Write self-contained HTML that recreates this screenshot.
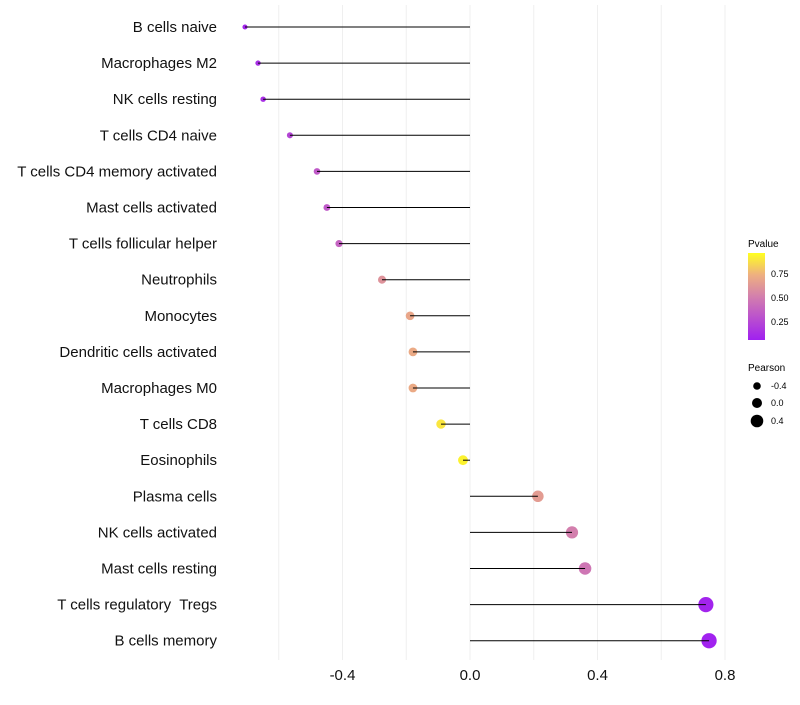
<!DOCTYPE html>
<html><head><meta charset="utf-8"><style>
body{margin:0;background:#fff;font-family:"Liberation Sans",sans-serif}
</style></head><body>
<svg id="c" width="800" height="700" xmlns="http://www.w3.org/2000/svg">
<defs><linearGradient id="pg" x1="0" y1="1" x2="0" y2="0">
<stop offset="0" stop-color="#a020f0"/><stop offset="0.5" stop-color="#d37fad"/><stop offset="0.75" stop-color="#eeb080"/><stop offset="1" stop-color="#ffff20"/>
</linearGradient></defs>
<g id="grid"></g><g id="dots"></g><g id="marks"></g><g id="labels"></g><g id="xt"></g>
<g font-size="9">
<text x="748" y="247" font-size="10">Pvalue</text>
<rect x="748" y="253" width="17" height="87" fill="url(#pg)"/>
<text x="771" y="277">0.75</text>
<text x="771" y="301">0.50</text>
<text x="771" y="325">0.25</text>
<text x="748" y="371" font-size="10">Pearson</text>
<circle cx="757" cy="386" r="3.8"/><text x="771" y="389">-0.4</text>
<circle cx="757" cy="403" r="5"/><text x="771" y="406">0.0</text>
<circle cx="757" cy="421" r="6.3"/><text x="771" y="424">0.4</text>
</g>
</svg>
<script>
const categories=["B cells naive","Macrophages M2","NK cells resting","T cells CD4 naive","T cells CD4 memory activated","Mast cells activated","T cells follicular helper","Neutrophils","Monocytes","Dendritic cells activated","Macrophages M0","T cells CD8","Eosinophils","Plasma cells","NK cells activated","Mast cells resting","T cells regulatory  Tregs","B cells memory"];
const pearson=[-0.706,-0.665,-0.649,-0.565,-0.48,-0.449,-0.411,-0.276,-0.188,-0.179,-0.179,-0.091,-0.022,0.213,0.32,0.361,0.74,0.75];
const pvalue=[0.03,0.08,0.08,0.2,0.3,0.3,0.35,0.6,0.7,0.72,0.72,0.92,0.96,0.65,0.5,0.45,0.02,0.01];
const xticks=[-0.4,0.0,0.4,0.8];
const gridVals=[-0.6,-0.4,-0.2,0,0.2,0.4,0.6,0.8];
const NS="http://www.w3.org/2000/svg";
const x=v=>470+v*318.75;
const y=i=>27+i*36.1;
function col(p){const st=[[0,[160,32,240]],[0.5,[211,127,173]],[0.75,[238,176,128]],[1,[255,255,32]]];
for(let k=1;k<st.length;k++){if(p<=st[k][0]){const a=st[k-1],b=st[k],t=(p-a[0])/(b[0]-a[0]);return`rgb(${a[1].map((c,j)=>Math.round(c+(b[1][j]-c)*t)).join(",")})`;}}return"rgb(255,255,32)";}
function mk(t,at,par){const e=document.createElementNS(NS,t);for(const k in at)e.setAttribute(k,at[k]);document.getElementById(par).appendChild(e);return e;}
gridVals.forEach(v=>{const e=mk("line",{x1:x(v),x2:x(v),y1:5,y2:660,stroke:"#efefef","stroke-width":1},"grid");

});
categories.forEach((c,i)=>{
const d=mk("circle",{cx:x(pearson[i]),cy:y(i),r:Math.max(1.5,5+pearson[i]*3.5),fill:col(pvalue[i])},"dots");


const l=mk("line",{x1:x(0),x2:x(pearson[i]),y1:y(i),y2:y(i),stroke:"#000","stroke-width":1},"marks");


const t=mk("text",{x:217,y:y(i)+5,"text-anchor":"end","font-size":"15",fill:"#111"},"labels");
t.setAttribute("xml:space","preserve");
t.style.whiteSpace="pre";
t.textContent=c;


});
xticks.forEach(v=>{const t=mk("text",{x:x(v),y:680,"text-anchor":"middle","font-size":"15",fill:"#111"},"xt");
t.textContent=v.toFixed(1);

});
</script>
</body></html>
